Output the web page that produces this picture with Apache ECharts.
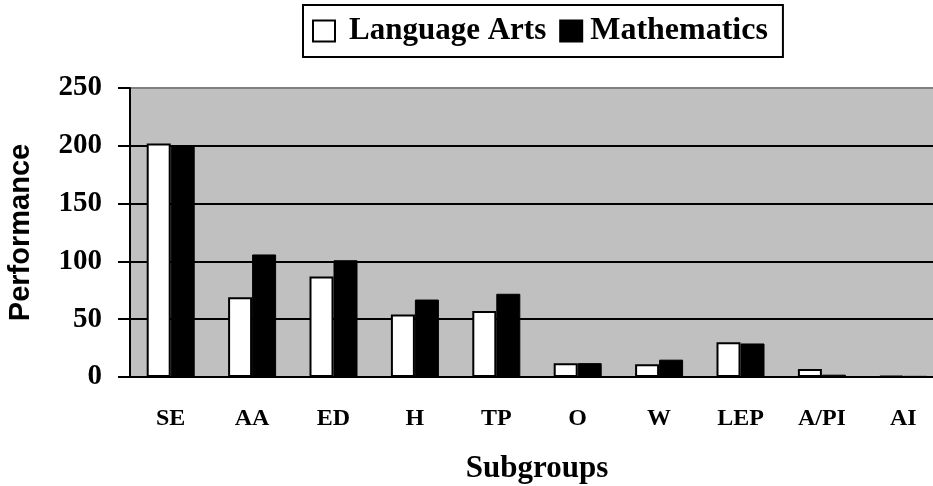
<!DOCTYPE html>
<html>
<head>
<meta charset="utf-8">
<script src="https://cdn.jsdelivr.net/npm/echarts@6/dist/echarts.min.js"></script>
<style>
	html, body { margin: 0; padding: 0; background: #fff; }
	#chart { width: 933px; height: 486px; }
</style>
</head>
<body>
<div id="chart"></div>
<script>
	// values
	var subgroups = ['SE', 'AA', 'ED', 'H', 'TP', 'O', 'W', 'LEP', 'A/PI', 'AI'];
	var languageArts = [202, 69, 87, 54, 57, 12, 11, 30, 7, 1];
	var mathematics = [200, 106, 101, 67, 72, 12, 15, 29, 2, 1];
	var yTicks = [0, 50, 100, 150, 200, 250];

	var serif = '"Liberation Serif", "Times New Roman", serif';
	var sans = '"Liberation Sans", Arial, sans-serif';

	var chart = echarts.init(document.getElementById('chart'));
	var option = {
		animation: false,
		legend: {
			left: 303,
			top: 5,
			padding: [10, 15, 10, 9],
			borderColor: '#000',
			borderWidth: 2,
			itemGap: 13,
			itemWidth: 22,
			itemHeight: 21,
			icon: 'rect',
			textStyle: {
				fontFamily: serif,
				fontWeight: 'bold',
				fontSize: 31,
				color: '#000'
			},
			data: [{
					name: 'Language Arts',
					textStyle: { padding: [0, 0, 0, 9] }
				},
				{
					name: 'Mathematics',
					textStyle: { fontSize: 32, padding: [0, 0, 0, 3] }
				}
			]
		},
		grid: {
			left: 130,
			width: 814,
			top: 88,
			bottom: 109,
			outerBoundsMode: 'none',
			show: true,
			backgroundColor: '#c0c0c0',
			borderWidth: 0
		},
		xAxis: {
			type: 'category',
			data: subgroups,
			name: 'Subgroups',
			nameLocation: 'middle',
			nameGap: 76,
			nameTextStyle: {
				fontFamily: serif,
				fontWeight: 'bold',
				fontSize: 31,
				color: '#000'
			},
			axisLine: { lineStyle: { color: '#000', width: 2 } },
			axisTick: { length: 8, lineStyle: { color: '#000', width: 2 } },
			axisLabel: {
				margin: 30,
				fontFamily: serif,
				fontWeight: 'bold',
				fontSize: 24,
				color: '#000'
			}
		},
		yAxis: {
			type: 'value',
			min: yTicks[0],
			max: yTicks[yTicks.length - 1],
			interval: 50,
			name: 'Performance',
			nameLocation: 'middle',
			nameGap: 95,
			nameTextStyle: {
				fontFamily: sans,
				fontWeight: 'bold',
				fontSize: 29,
				color: '#000'
			},
			axisLine: { show: true, lineStyle: { color: '#000', width: 2 } },
			axisTick: { show: true, length: 12, lineStyle: { color: '#000', width: 2 } },
			axisLabel: {
				margin: 28,
				fontFamily: serif,
				fontWeight: 'bold',
				fontSize: 29,
				color: '#000'
			},
			splitLine: {
				show: true,
				lineStyle: {
					color: ['#000', '#000', '#000', '#000', '#000', '#808080'],
					width: 2
				}
			}
		},
		series: [{
				name: 'Language Arts',
				type: 'bar',
				barWidth: 24,
				barGap: 0,
				itemStyle: { color: '#fff', borderColor: '#000', borderWidth: 2 },
				data: languageArts
			},
			{
				name: 'Mathematics',
				type: 'bar',
				barWidth: 24,
				barGap: 0,
				itemStyle: { color: '#000', borderColor: '#000', borderWidth: 1 },
				data: mathematics
			}
		]
	};
	chart.setOption(option);
</script>
</body>
</html>
